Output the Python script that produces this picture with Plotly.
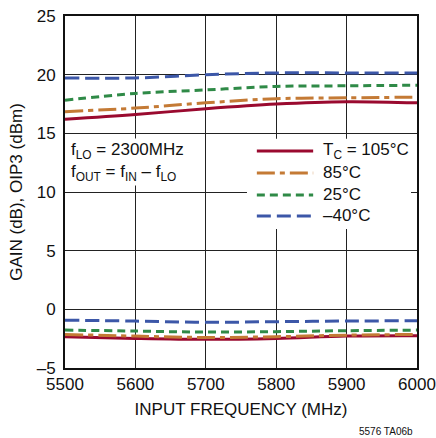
import plotly.graph_objects as go

# input frequency (MHz)
freq = [5500, 5600, 5700, 5800, 5900, 6000]

# OIP3 (dBm) per case temperature
oip3_105 = [16.2, 16.6, 17.1, 17.5, 17.7, 17.6]
oip3_85 = [16.85, 17.15, 17.6, 17.95, 18.03, 18.08]
oip3_25 = [17.82, 18.4, 18.7, 19.0, 19.05, 19.1]
oip3_m40 = [19.72, 19.72, 20.0, 20.15, 20.15, 20.15]

# conversion gain (dB) per case temperature
gain_105 = [-2.33, -2.48, -2.56, -2.48, -2.28, -2.25]
gain_85 = [-2.14, -2.28, -2.4, -2.33, -2.2, -2.14]
gain_25 = [-1.77, -1.85, -1.94, -1.9, -1.82, -1.77]
gain_m40 = [-0.92, -1.0, -1.11, -1.05, -1.0, -0.97]

temps = ["T<sub>C</sub> = 105°C", "85°C", "25°C", "–40°C"]
colors = ["#9a0a2f", "#c47a35", "#2f8a47", "#3c57a8"]
dashes = ["solid", "18px,5px,5px,5px", "8px,5px", "14px,6px"]

x_ticks = [5500, 5600, 5700, 5800, 5900, 6000]
y_ticks = [-5, 0, 5, 10, 15, 20, 25]
y_ticktext = ["–5", "0", "5", "10", "15", "20", "25"]

FONT = "Liberation Sans, Arial, sans-serif"

fig = go.Figure()

series = [(oip3_105, gain_105), (oip3_85, gain_85), (oip3_25, gain_25), (oip3_m40, gain_m40)]
for (oip3, gain), col, dash in zip(series, colors, dashes):
    for vals in (oip3, gain):
        fig.add_trace(go.Scatter(x=freq, y=vals, mode="lines", line_shape="spline",
                                 line=dict(color=col, width=3, dash=dash),
                                 showlegend=False, hoverinfo="skip"))

# legend drawn by hand so the line samples match the original length
shapes = [dict(type="rect", xref="paper", yref="paper", x0=0.517, x1=0.983, y0=0.395, y1=0.651,
               fillcolor="white", line=dict(width=0), layer="above")]
annotations = []
leg_y = [0.6165, 0.554, 0.4915, 0.432]
for name, col, dash, ly in zip(temps, colors, dashes, leg_y):
    shapes.append(dict(type="line", xref="paper", yref="paper", x0=0.545, x1=0.705, y0=ly, y1=ly,
                       line=dict(color=col, width=3, dash=dash), layer="above"))
    annotations.append(dict(xref="paper", yref="paper", x=0.728, y=ly, text=name, showarrow=False,
                            xanchor="left", yanchor="middle", font=dict(size=17, color="#111")))

annotations.append(dict(xref="paper", yref="paper", x=0.012, y=0.652,
                        text="f<sub>LO</sub> = 2300MHz<br>f<sub>OUT</sub> = f<sub>IN</sub> – f<sub>LO</sub>",
                        showarrow=False, xanchor="left", yanchor="top", align="left",
                        bgcolor="white", font=dict(size=17, color="#111")))
annotations.append(dict(xref="paper", yref="paper", x=0.995, y=-0.179, text="5576 TA06b",
                        showarrow=False, xanchor="right", yanchor="middle", font=dict(size=10, color="#111")))

fig.update_layout(
    width=436, height=438,
    margin=dict(l=65, r=19, t=16, b=70, autoexpand=False),
    paper_bgcolor="white", plot_bgcolor="white",
    font=dict(family=FONT, size=17, color="#111"),
    shapes=shapes, annotations=annotations,
    showlegend=False,
)
fig.update_xaxes(range=[5500, 6000], tickvals=x_ticks, showgrid=True, gridcolor="#222", gridwidth=1,
                 showline=True, linecolor="#111", linewidth=2, mirror=True, ticks="", zeroline=False,
                 automargin=False, title=dict(text="INPUT FREQUENCY (MHz)", font=dict(size=17), standoff=10))
fig.update_yaxes(range=[-5, 25], tickvals=y_ticks, ticktext=y_ticktext, showgrid=True, gridcolor="#222",
                 gridwidth=1, showline=True, linecolor="#111", linewidth=2, mirror=True, ticks="",
                 ticklabelstandoff=4, zeroline=False, automargin=False,
                 title=dict(text="GAIN (dB), OIP3 (dBm)", font=dict(size=17), standoff=10))

# drop the default page margin so the figure sits at the window's corner
fig.write_html("out.html", config={"displayModeBar": False},
               post_script="document.body.style.margin='0';")
